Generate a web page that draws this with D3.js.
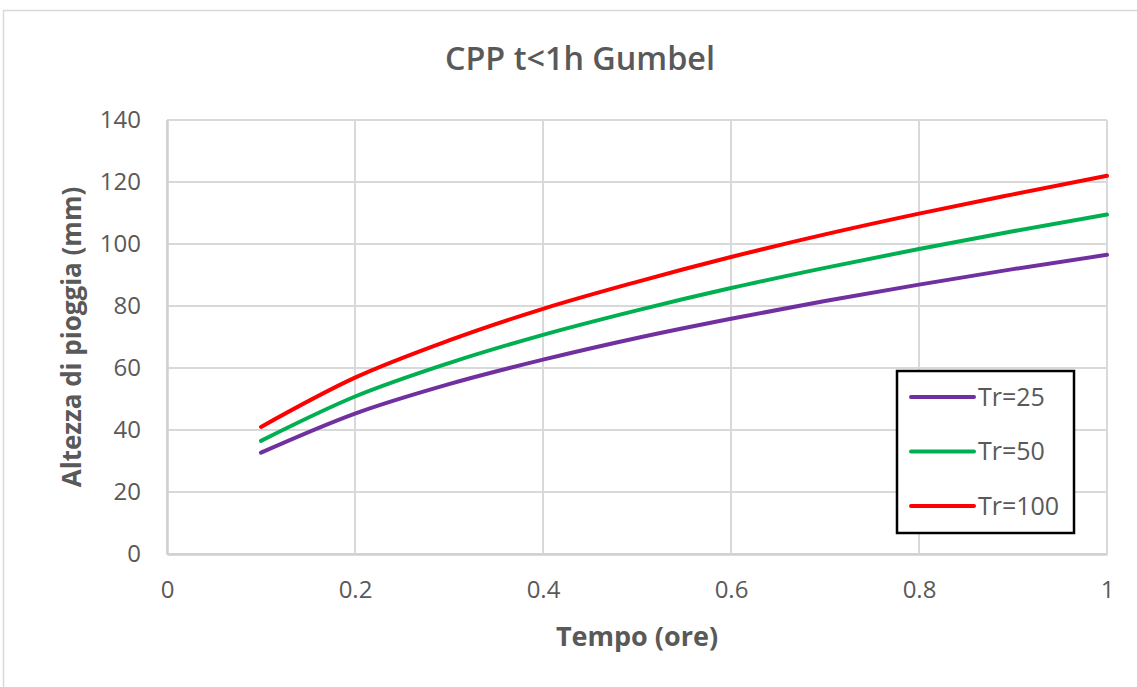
<!DOCTYPE html>
<html>
<head>
<meta charset="utf-8">
<script src="https://cdn.jsdelivr.net/npm/d3@7"></script>
<style>
  body { margin: 0; background: #fff; }
  svg { display: block; }
</style>
</head>
<body>
<div id="chart"></div>
<script>
// time (hours)
const tempo = [0.1, 0.2, 0.3, 0.4, 0.5, 0.6, 0.7, 0.8, 0.9, 1.0];
// rainfall depth (mm)
const tr25  = [32.7, 45.3, 54.8, 62.7, 69.7, 75.9, 81.6, 86.9, 91.9, 96.5];
const tr50  = [36.5, 50.8, 61.6, 70.7, 78.6, 85.8, 92.3, 98.4, 104.1, 109.5];
const tr100 = [41.0, 56.9, 68.9, 79.1, 87.8, 95.8, 103.1, 109.8, 116.0, 122.0];
const seriesNames = ["Tr=25", "Tr=50", "Tr=100"];
const xTicks = [0, 0.2, 0.4, 0.6, 0.8, 1];
const yTicks = [0, 20, 40, 60, 80, 100, 120, 140];

const W = 1137, H = 687;
const margin = { top: 120, right: 30, bottom: 133, left: 167 };
const width = W - margin.left - margin.right;   // 940
const height = H - margin.top - margin.bottom;  // 434

const svg = d3.select("#chart").append("svg")
  .attr("width", W)
  .attr("height", H);

// chart outline
svg.append("rect")
  .attr("x", 3.5).attr("y", 10.5)
  .attr("width", W + 10).attr("height", H + 10)
  .attr("fill", "none").attr("stroke", "#d9d9d9").attr("stroke-width", 1.5);

const g = svg.append("g")
  .attr("transform", "translate(" + margin.left + "," + margin.top + ")");

const x = d3.scaleLinear().domain([0, 1]).range([0, width]);
const y = d3.scaleLinear().domain([0, 140]).range([height, 0]);

const gridColor = "#d9d9d9";
const tickColor = "#595959";

// grid
g.append("g").selectAll("line").data(yTicks).enter().append("line")
  .attr("x1", 0).attr("x2", width)
  .attr("y1", d => y(d)).attr("y2", d => y(d))
  .attr("stroke", gridColor).attr("stroke-width", 2);
g.append("g").selectAll("line").data(xTicks).enter().append("line")
  .attr("y1", 0).attr("y2", height)
  .attr("x1", d => x(d)).attr("x2", d => x(d))
  .attr("stroke", gridColor).attr("stroke-width", 2);

// axes
const yAxis = g.append("g")
  .call(d3.axisLeft(y).tickValues(yTicks).tickSize(0).tickPadding(26));
const xAxis = g.append("g")
  .attr("transform", "translate(0," + height + ")")
  .call(d3.axisBottom(x).tickValues(xTicks).tickSize(0).tickPadding(27)
    .tickFormat(d => d3.format("")(d)));
[yAxis, xAxis].forEach(a => {
  a.select(".domain").attr("stroke", "#d0d0d0").attr("stroke-width", 2.5);
  a.selectAll("text")
    .attr("fill", tickColor)
    .style("font-size", "24px")
    .style("font-family", "'Open Sans', sans-serif");
});

// lines
const data = [tr25, tr50, tr100];
const colors = d3.scaleOrdinal().domain(seriesNames).range(["#7030a0", "#00b050", "#ff0000"]);
const line = d3.line()
  .x((d, i) => x(tempo[i]))
  .y(d => y(d))
  .curve(d3.curveMonotoneX);

g.append("g").selectAll("path").data(data).enter().append("path")
  .attr("d", line)
  .attr("fill", "none")
  .attr("stroke", (d, i) => colors(seriesNames[i]))
  .attr("stroke-width", 4)
  .attr("stroke-linecap", "round");

// title
svg.append("text")
  .attr("x", 580).attr("y", 70)
  .attr("text-anchor", "middle")
  .attr("fill", tickColor)
  .style("font-size", "32px")
  .style("font-weight", "600")
  .style("font-family", "'Open Sans', sans-serif")
  .attr("textLength", 270)
  .attr("lengthAdjust", "spacingAndGlyphs")
  .text("CPP t<1h Gumbel");

// axis titles
svg.append("text")
  .attr("x", margin.left + x(0.5)).attr("y", 646)
  .attr("text-anchor", "middle")
  .attr("fill", tickColor)
  .style("font-size", "27px")
  .style("font-weight", "bold")
  .style("font-family", "'Open Sans', sans-serif")
  .text("Tempo (ore)");

svg.append("text")
  .attr("transform", "translate(81," + 337 + ") rotate(-90)")
  .attr("text-anchor", "middle")
  .attr("fill", tickColor)
  .style("font-size", "26px")
  .style("font-weight", "bold")
  .style("font-family", "'Open Sans', sans-serif")
  .text("Altezza di pioggia (mm)");

// legend
const legX = 897, legY = 371;
svg.append("rect")
  .attr("x", legX).attr("y", legY)
  .attr("width", 177).attr("height", 162)
  .attr("fill", "#fff").attr("stroke", "#000").attr("stroke-width", 2.5);

const leg = svg.append("g").selectAll("g").data(seriesNames).enter().append("g")
  .attr("transform", (d, i) => "translate(" + legX + "," + (legY + 26 + i * 54.5) + ")");
leg.append("line")
  .attr("x1", 14).attr("x2", 77)
  .attr("y1", 0).attr("y2", 0)
  .attr("stroke", d => colors(d)).attr("stroke-width", 4)
  .attr("stroke-linecap", "round");
leg.append("text")
  .attr("x", 81).attr("y", 0)
  .attr("dy", "0.35em")
  .attr("fill", tickColor)
  .style("font-size", "25px")
  .style("font-family", "'Open Sans', sans-serif")
  .text(d => d);
</script>
</body>
</html>
